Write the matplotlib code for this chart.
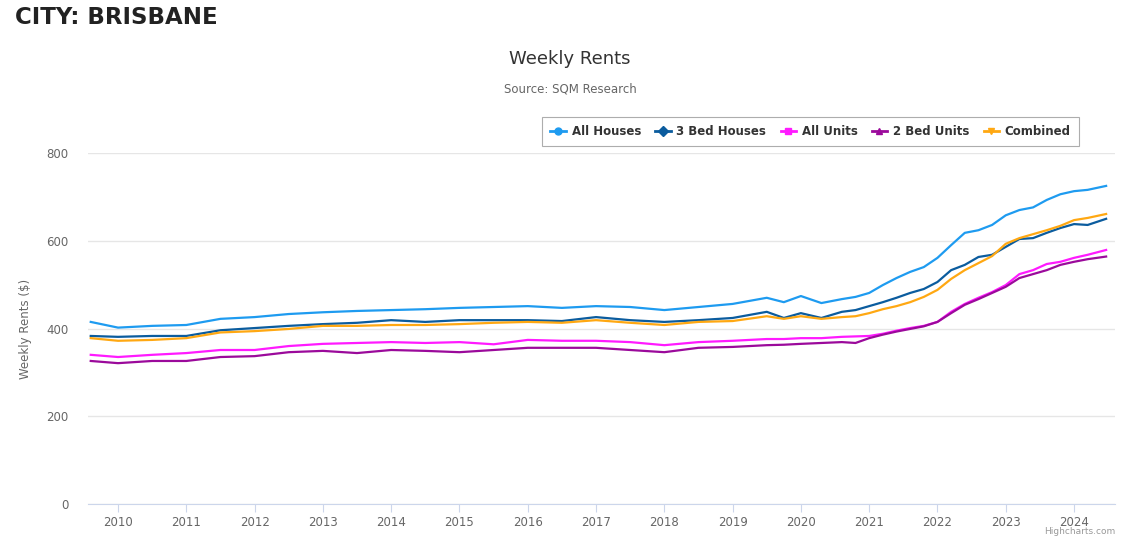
import matplotlib.pyplot as plt

# decimal years
dates = [2009.6, 2010.0, 2010.5, 2011.0, 2011.5, 2012.0, 2012.5, 2013.0, 2013.5,
         2014.0, 2014.5, 2015.0, 2015.5, 2016.0, 2016.5, 2017.0, 2017.5, 2018.0,
         2018.5, 2019.0, 2019.5, 2019.75, 2020.0, 2020.3, 2020.6, 2020.8, 2021.0,
         2021.2, 2021.4, 2021.6, 2021.8, 2022.0, 2022.2, 2022.4, 2022.6, 2022.8,
         2023.0, 2023.2, 2023.4, 2023.6, 2023.8, 2024.0, 2024.2, 2024.47]

all_houses = [415, 402, 406, 408, 422, 426, 433, 437, 440, 442, 444, 447, 449, 451,
              447, 451, 449, 442, 449, 456, 470, 460, 474, 458, 467, 472, 481, 499,
              515, 529, 540, 561, 590, 618, 624, 636, 658, 670, 676, 693, 706, 713,
              716, 725]
bed3_houses = [383, 381, 383, 383, 396, 401, 406, 410, 413, 419, 415, 419, 419, 419,
               417, 426, 419, 415, 419, 424, 438, 424, 435, 424, 438, 442, 451, 460,
               470, 481, 490, 506, 533, 545, 563, 568, 586, 604, 606, 618, 629, 638,
               636, 650]
all_units = [340, 335, 340, 344, 351, 351, 360, 365, 367, 369, 367, 369, 364, 374,
             372, 372, 369, 362, 369, 372, 376, 376, 378, 378, 381, 382, 383, 388,
             395, 401, 406, 415, 438, 456, 470, 483, 499, 524, 533, 547, 552, 561,
             568, 579]
bed2_units = [326, 321, 326, 326, 335, 337, 346, 349, 344, 351, 349, 346, 351, 356,
              356, 356, 351, 346, 356, 358, 362, 363, 365, 367, 369, 367, 378, 386,
              393, 399, 405, 415, 435, 454, 467, 481, 495, 515, 524, 533, 545, 552,
              558, 564]
combined = [378, 372, 374, 378, 391, 394, 399, 406, 406, 408, 408, 410, 413, 415,
            413, 419, 413, 408, 415, 417, 428, 422, 428, 422, 426, 428, 435, 444,
            451, 460, 472, 488, 513, 533, 549, 565, 593, 606, 615, 624, 634, 647,
            652, 661]

series = [
    ("All Houses", all_houses, "#1e9bf0", "o"),
    ("3 Bed Houses", bed3_houses, "#0b5c9e", "D"),
    ("All Units", all_units, "#ff1aff", "s"),
    ("2 Bed Units", bed2_units, "#9b0a9b", "^"),
    ("Combined", combined, "#ffa812", "v"),
]
years = list(range(2010, 2025))

fig = plt.figure(figsize=(11.23, 5.36), dpi=100)
ax = fig.add_axes([88 / 1123, 32 / 536, 1027 / 1123, 351 / 536])

for name, vals, col, mk in series:
    ax.plot(dates, vals, color=col, lw=1.6, label=name)

ax.set_xlim(2009.56, 2024.6)
ax.set_ylim(0, 800)
ax.set_yticks([0, 200, 400, 600, 800])
ax.set_xticks(years)
ax.set_xticklabels([str(y) for y in years])
ax.grid(axis="y", color="#e6e6e6", lw=1)
ax.set_axisbelow(True)
for s in ["left", "right", "top"]:
    ax.spines[s].set_visible(False)
ax.spines["bottom"].set_color("#ccd6eb")
ax.tick_params(axis="x", colors="#ccd6eb", length=6, labelcolor="#666666",
               labelsize=8.5, pad=3)
ax.tick_params(axis="y", length=0, labelcolor="#666666", labelsize=8.5, pad=14)
ax.set_ylabel("Weekly Rents ($)", color="#666666", fontsize=8.5, labelpad=10)

fig.text(15 / 1123, 1 - 18 / 536, "CITY: BRISBANE", fontsize=16.5, fontweight="bold",
         color="#222222", va="center", ha="left")
fig.text(570 / 1123, 1 - 59 / 536, "Weekly Rents", fontsize=13, color="#333333",
         ha="center", va="center")
fig.text(570 / 1123, 1 - 89 / 536, "Source: SQM Research", fontsize=8.5,
         color="#666666", ha="center", va="center")
fig.text(1115 / 1123, 1 - 532 / 536, "Highcharts.com", fontsize=6.5,
         color="#999999", ha="right", va="center")

handles = [plt.Line2D([], [], color=c, marker=m, markersize=5, lw=2)
           for _, _, c, m in series]
leg = fig.legend(handles, [s[0] for s in series], ncol=5, loc="upper right",
                 bbox_to_anchor=(1085 / 1123, 1 - 111 / 536), frameon=True,
                 fancybox=False, edgecolor="#999999", fontsize=8.5,
                 handlelength=1.3, handletextpad=0.5, columnspacing=1.2,
                 borderpad=0.7)
leg.get_frame().set_linewidth(0.8)
for t in leg.get_texts():
    t.set_fontweight("bold")
    t.set_color("#333333")

fig.savefig("out.png", dpi=100)
